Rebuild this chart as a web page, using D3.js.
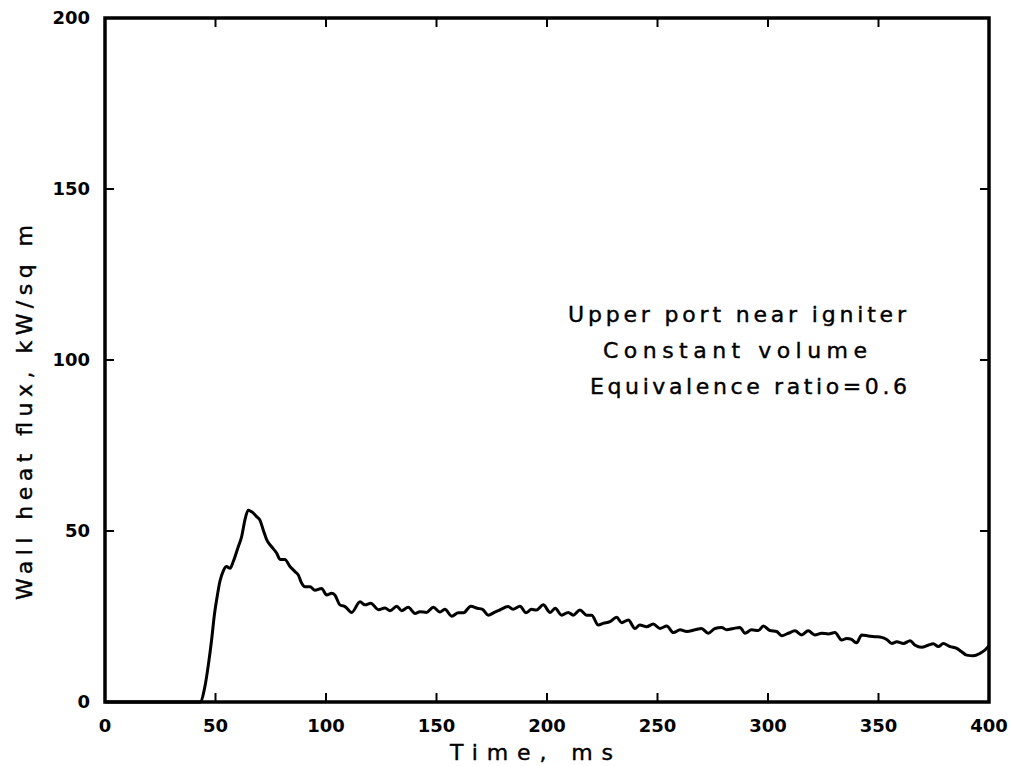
<!DOCTYPE html>
<html><head><meta charset="utf-8">
<script src="https://cdn.jsdelivr.net/npm/d3@7"></script>
<style>body{margin:0;background:#fff;}svg{display:block;}</style>
</head><body>
<svg id="c" width="1013" height="766"></svg>
<script>
const time = [0,43,45.2,46.8,48.3,49.5,50.8,52,53.5,55,56.6,58,60.3,61.8,63.3,64.8,66.4,68.6,70.1,71.6,73.2,75.4,77.7,79.2,81.4,83.7,86,87.5,89,90.5,92.8,95,98,100.3,102.6,104,106.3,108.6,111.6,115.4,117.6,120.3,123.7,126.7,129,132,134.2,137.2,140.3,142.5,145.5,148.6,151.6,153.8,156.9,159.9,162.2,165.5,168.5,170.8,173.4,176.4,178.6,182.4,184.6,187.8,190.5,193,195.2,198.3,201.4,203.7,206.6,209.6,211.9,214.9,217.9,220.2,223.2,225.4,228.5,231.5,233.8,236.8,239.8,242,245.1,248.1,251.1,254.2,257.2,260.2,263.2,267,269.9,273,276,279,281.3,284.3,287.3,289.6,292.6,295.6,297.9,300.9,303.9,306.2,309.2,312.2,315.2,318.2,321.2,324.3,327.3,330.3,333.3,335.6,337.8,340.1,342.4,345.4,348.4,351.4,353.7,356,358.3,361.3,364.3,366.6,369.5,372.5,374.8,377.1,379.3,382.4,385.4,387.6,389.9,392.9,395.9,398.2,400];
const flux = [0,0,4.5,11,18.5,25.5,31,35.3,38.3,39.6,39.1,41,45.4,48.3,53.2,56.1,55.6,54.2,53.2,50.3,47.4,45.4,43.5,41.7,41.7,39.6,38.1,37.1,34.7,33.7,33.7,32.7,33.2,31.3,31.8,31.3,28.4,27.9,26.2,29.3,28.4,28.9,27.0,27.5,26.7,28,26.7,27.7,25.9,26.4,26.2,27.7,26.3,27.1,25.1,26.1,26.1,28,27.4,27.1,25.4,26.3,26.9,27.9,27.1,28,26.1,27.1,26.9,28.4,26.2,27.4,25.4,26.2,25.4,26.9,25.4,25.4,22.5,23.0,23.5,24.8,23.2,24,21.5,22.5,22,22.8,21.5,22.2,20.3,21.1,20.6,21.1,21.5,20.1,21.5,21.8,21.1,21.5,21.8,20.1,21.1,20.9,22.2,20.9,20.6,19.4,20.1,20.8,19.6,20.8,19.6,20.1,19.9,20.3,18.1,18.6,18.3,17.3,19.6,19.3,19.1,18.9,18.3,17.1,17.6,17.1,17.9,16.6,16,16.6,17,16.2,17.1,16.2,15.7,14.7,13.7,13.5,14.2,15.2,16.5];
const xTicks = [0,50,100,150,200,250,300,350,400];
const yTicks = [0,50,100,150,200];
const xTitle = "Time, ms";
const yTitle = "Wall heat flux, kW/sq m";
const notes = ["Upper port near igniter","Constant volume","Equivalence ratio=0.6"];

const svg = d3.select("#c");
const L=105,R=989,T=18,B=702;
const x = d3.scaleLinear().domain([0,400]).range([L,R]);
const y = d3.scaleLinear().domain([0,200]).range([B,T]);
const font = "'DejaVu Sans', sans-serif";

// inward ticks
const tl = 9;
const tickG = svg.append("g").attr("stroke","#000").attr("stroke-width",2);
xTicks.slice(1,-1).forEach(v=>{
  tickG.append("line").attr("x1",x(v)).attr("x2",x(v)).attr("y1",B).attr("y2",B-tl);
  tickG.append("line").attr("x1",x(v)).attr("x2",x(v)).attr("y1",T).attr("y2",T+tl);
});
yTicks.slice(1,-1).forEach(v=>{
  tickG.append("line").attr("x1",L).attr("x2",L+tl).attr("y1",y(v)).attr("y2",y(v));
  tickG.append("line").attr("x1",R).attr("x2",R-tl).attr("y1",y(v)).attr("y2",y(v));
});

// frame
svg.append("rect").attr("x",L).attr("y",T).attr("width",R-L).attr("height",B-T)
  .attr("fill","none").attr("stroke","#000").attr("stroke-width",3.5);

// tick labels
svg.append("g").selectAll("text").data(xTicks).join("text")
  .attr("x",d=>x(d)).attr("y",732).attr("text-anchor","middle")
  .attr("font-family",font).attr("font-weight","bold").attr("font-size",18).text(d=>d);
svg.append("g").selectAll("text").data(yTicks).join("text")
  .attr("x",90).attr("y",d=>y(d)+6).attr("text-anchor","end")
  .attr("font-family",font).attr("font-weight","bold").attr("font-size",18).text(d=>d);

// titles
svg.append("text").attr("x",450).attr("y",760).attr("textLength",163).attr("lengthAdjust","spacing")
  .attr("font-family",font).attr("font-size",22).attr("stroke","#000").attr("stroke-width",0.4).text(xTitle);
svg.append("text").attr("transform","translate(32,600) rotate(-90)").attr("textLength",375).attr("lengthAdjust","spacing")
  .attr("font-family",font).attr("font-size",22).attr("stroke","#000").attr("stroke-width",0.4).text(yTitle);

// annotation
const nx=[568,603,590], ny=[322,358,394], nw=[338,264,317];
notes.forEach((t,i)=>{
  svg.append("text").attr("x",nx[i]).attr("y",ny[i]).attr("textLength",nw[i]).attr("lengthAdjust","spacing")
    .attr("font-family",font).attr("font-size",22).attr("stroke","#000").attr("stroke-width",0.4).text(t);
});

// curve
const pts = time.map((t,i)=>[t,flux[i]]);
svg.append("path").datum(pts)
  .attr("d",d3.line().x(d=>x(d[0])).y(d=>y(d[1])).curve(d3.curveMonotoneX))
  .attr("fill","none").attr("stroke","#000").attr("stroke-width",3).attr("stroke-linejoin","round");
</script>
</body></html>
